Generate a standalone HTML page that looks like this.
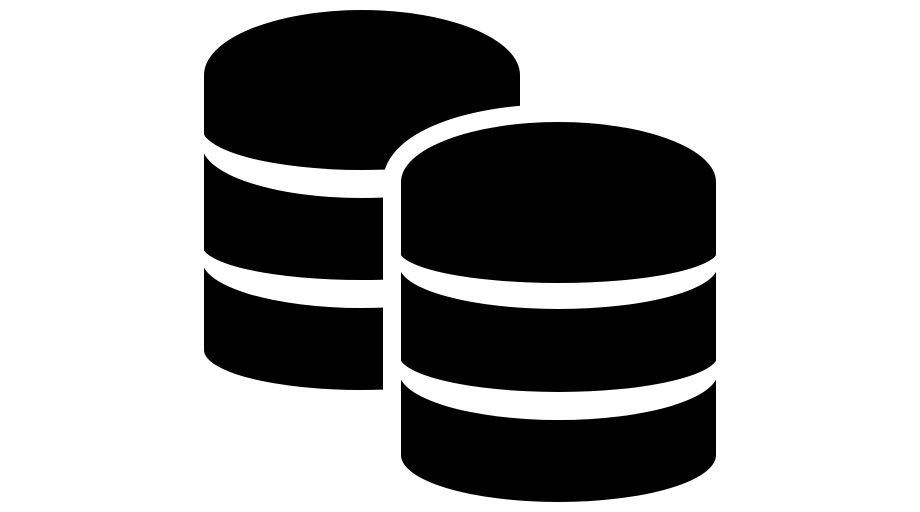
<!DOCTYPE html>
<html><head><meta charset="utf-8"><style>
html,body{margin:0;padding:0;background:#fff;width:920px;height:512px;overflow:hidden}
svg{display:block}
</style></head><body>
<svg width="920" height="512" viewBox="0 0 920 512" xmlns="http://www.w3.org/2000/svg">
  <!-- back stack -->
  <path d="M204,75 A158,65 0 0 1 520,75 L520,350 A158,40 0 0 1 204,350 Z" fill="#000"/>
  <path d="M202,128 A160,42 0 0 0 522,128 L522,145 A160,53 0 0 1 202,145 Z" fill="#fff"/>
  <path d="M202,245 A160,35 0 0 0 522,245 L522,260 A160,48 0 0 1 202,260 Z" fill="#fff"/>
  <!-- front stack outline -->
  <path d="M401,182 A157.5,60 0 0 1 716,182 L716,455 A157.5,47 0 0 1 401,455 Z" fill="#fff" stroke="#fff" stroke-width="36" stroke-linejoin="round"/>
  <!-- front stack -->
  <path d="M401,182 A157.5,60 0 0 1 716,182 L716,455 A157.5,47 0 0 1 401,455 Z" fill="#000"/>
  <path d="M399,250 A159.5,33 0 0 0 718,250 L718,265 A159.5,44 0 0 1 399,265 Z" fill="#fff"/>
  <path d="M399,355 A159.5,37 0 0 0 718,355 L718,372 A159.5,48 0 0 1 399,372 Z" fill="#fff"/>
</svg>
</body></html>
